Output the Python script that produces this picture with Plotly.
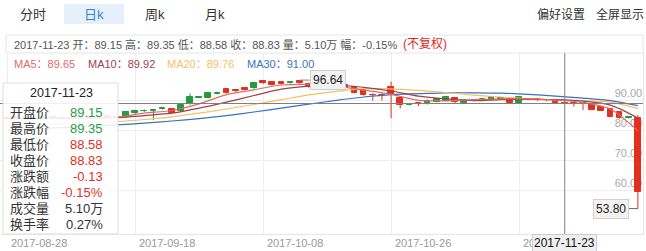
import plotly.graph_objects as go

# ---- daily candles (index 0 = 2017-08-28) ----
opens = [84.0, 83.8, 84.3, 83.6, 84.0, 84.5, 84.1, 83.7, 84.0, 84.3, 83.9, 84.2, 84.4,
         84.4, 85.6, 86.3, 86.2, 87.1, 86.9, 86.4, 88.7, 90.8, 90.8, 92.1, 93.6, 93.2,
         93.9, 93.9, 96.4, 95.9, 96.1, 95.7, 96.5, 95.2, 95.0, 94.8, 94.8, 95.0, 94.2,
         93.3, 91.8, 91.8, 94.3, 90.6, 88.5, 89.0, 89.1, 89.4, 89.8, 90.6, 88.9, 89.9,
         90.0, 90.0, 90.5, 90.2, 89.1, 90.4, 90.2, 90.1, 90.0, 89.15, 89.1, 88.9, 88.6,
         87.8, 86.9, 86.1, 83.9, 83.9]
highs = [84.4, 84.5, 84.5, 84.2, 84.8, 84.6, 84.2, 84.3, 84.5, 84.4, 84.4, 84.8, 84.7,
         86.3, 86.8, 86.8, 87.0, 87.6, 87.2, 88.5, 92.2, 91.3, 92.6, 92.6, 94.0, 93.5,
         94.1, 96.0, 96.6, 96.1, 96.3, 96.2, 96.64, 95.4, 95.2, 95.0, 95.0, 95.2, 94.4,
         93.5, 92.2, 92.2, 96.1, 90.8, 89.0, 89.2, 90.2, 90.5, 91.3, 90.7, 90.2, 90.3,
         90.4, 91.1, 90.8, 90.4, 91.2, 90.6, 90.4, 90.3, 90.2, 89.35, 89.4, 89.0, 88.7,
         88.0, 87.0, 86.2, 84.5, 85.0]
lows = [83.5, 83.6, 83.4, 83.4, 83.8, 83.9, 83.4, 83.5, 83.8, 83.7, 83.8, 84.0, 83.9,
        84.0, 85.2, 86.0, 83.3, 86.8, 85.6, 86.1, 88.4, 90.6, 90.5, 91.9, 92.2, 92.7,
        93.2, 93.7, 95.4, 94.8, 95.1, 95.5, 95.4, 94.1, 94.1, 94.2, 93.6, 93.7, 92.2,
        91.5, 89.8, 89.8, 83.9, 87.2, 88.2, 88.0, 88.5, 89.2, 89.6, 89.0, 88.7, 89.7,
        89.8, 89.9, 90.2, 89.0, 88.9, 90.0, 89.7, 89.6, 88.8, 88.58, 87.8, 86.7, 86.6,
        86.3, 84.3, 83.8, 83.8, 53.80]
closes = [83.8, 84.3, 83.6, 84.0, 84.5, 84.1, 83.7, 84.0, 84.3, 83.9, 84.2, 84.6, 84.3,
          86.1, 86.4, 86.5, 86.7, 87.3, 85.8, 88.3, 90.9, 91.0, 92.2, 92.3, 92.4, 93.0,
          93.4, 95.8, 95.6, 95.0, 95.3, 95.9, 95.6, 94.4, 94.4, 94.6, 93.9, 93.9, 92.4,
          91.7, 91.6, 91.6, 92.0, 88.3, 88.7, 88.8, 89.8, 90.2, 90.9, 89.2, 90.0, 90.1,
          90.2, 90.9, 90.6, 89.1, 90.9, 90.3, 90.0, 89.9, 88.96, 88.83, 88.9, 88.7, 86.7,
          86.4, 84.4, 83.9, 84.3, 59.4]

# ---- moving averages, sampled every third session ----
ma_idx = [0, 3, 6, 9, 12, 15, 18, 21, 24, 27, 30, 33, 36, 39, 42, 45, 48, 51, 54, 57, 60, 63, 66, 69]
ma5 = [84.0, 84.0, 84.0, 84.0, 84.3, 85.6, 86.5, 88.7, 91.8, 93.4, 95.0, 95.2, 94.6, 93.3,
       91.9, 89.9, 89.7, 90.1, 90.4, 90.4, 90.0, 89.1, 87.0, 79.7]
ma10 = [83.8, 83.9, 84.0, 84.0, 84.1, 84.8, 85.6, 87.3, 89.3, 91.5, 93.6, 94.6, 95.0, 94.2,
        93.0, 91.3, 90.4, 89.8, 90.1, 90.2, 90.1, 89.6, 88.3, 84.0]
ma20 = [81.5, 81.8, 82.1, 82.4, 82.8, 83.5, 84.4, 85.6, 87.0, 88.5, 90.1, 91.7, 92.9, 93.7,
        93.7, 93.2, 92.5, 91.6, 91.0, 90.4, 90.0, 89.75, 89.3, 87.1]
ma30 = [80.2, 80.5, 80.8, 81.2, 81.7, 82.3, 83.0, 83.8, 84.8, 86.0, 87.3, 88.6, 89.9, 91.0,
        91.8, 92.1, 92.4, 92.4, 92.3, 91.9, 91.3, 90.65, 89.8, 88.1]

x_ticks = [0, 14, 28, 42, 56]
x_tick_text = ["2017-08-28", "2017-09-18", "2017-10-08", "2017-10-26", "2017-11-16"]
y_ticks = [60, 70, 80, 90]
y_tick_text = ["60.00", "70.00", "80.00", "90.00"]

sel = 61
sel_date = "2017-11-23"
ma_now = {"MA5": "89.65", "MA10": "89.92", "MA20": "89.76", "MA30": "91.00"}
hi_idx, hi_val = 32, 96.64
lo_idx, lo_val = 69, 53.80

UP = "#1f9d3f"
DOWN = "#e2311d"
MA_COLORS = {"MA5": "#e06a6a", "MA10": "#9e3f4c", "MA20": "#f6c05f", "MA30": "#3a72bd"}
FONT = "Arial, 'Liberation Sans', 'Noto Sans CJK SC', sans-serif"

W, H = 646, 251
PL, PR, PT, PB = 0, 643, 53, 234  # plot box in pixels


def xp(px):
    return (px - PL) / (PR - PL)


def yp(py):
    return (PB - py) / (PB - PT)


fig = go.Figure()

x0_px, dx_px = 7.2, 9.14
xr = [(PL - x0_px) / dx_px, (PR - x0_px) / dx_px]
ppu = 3.0  # pixels per price unit
yr = [90 - (PB - 100) / ppu, 90 + (100 - PT) / ppu]

# wicks
for color, pick in ((UP, lambda o, c: c >= o), (DOWN, lambda o, c: c < o)):
    wx, wy = [], []
    for i, (o, h, l, c) in enumerate(zip(opens, highs, lows, closes)):
        if pick(o, c):
            wx += [i, i, None]
            wy += [l, h, None]
    fig.add_trace(go.Scatter(x=wx, y=wy, mode="lines", line=dict(color=color, width=1),
                             hoverinfo="skip", showlegend=False))

# bodies
for color, pick in ((UP, lambda o, c: c >= o), (DOWN, lambda o, c: c < o)):
    ids = [i for i, (o, c) in enumerate(zip(opens, closes)) if pick(o, c)]
    fig.add_trace(go.Bar(
        x=ids,
        base=[min(opens[i], closes[i]) for i in ids],
        y=[abs(closes[i] - opens[i]) for i in ids],
        width=0.62,
        marker=dict(color=color, line=dict(color=color, width=1)),
        hoverinfo="skip", showlegend=False))

# moving averages
for name, vals in (("MA30", ma30), ("MA20", ma20), ("MA10", ma10), ("MA5", ma5)):
    fig.add_trace(go.Scatter(x=ma_idx, y=vals, mode="lines",
                             line=dict(color=MA_COLORS[name], width=1.2, shape="spline", smoothing=0.8),
                             hoverinfo="skip", showlegend=False))

fig.update_layout(
    width=W, height=H,
    margin=dict(l=PL, r=W - PR, t=PT, b=H - PB),
    paper_bgcolor="white", plot_bgcolor="white",
    barmode="overlay", bargap=0,
    showlegend=False,
    font=dict(family=FONT, size=11, color="#333"),
    xaxis=dict(range=xr, tickvals=x_ticks, showticklabels=False, showgrid=True,
               gridcolor="#eeeeee", gridwidth=1, zeroline=False,
               showline=True, linecolor="#e6e6e6", linewidth=1,
               fixedrange=True),
    yaxis=dict(range=yr, side="right", tickvals=y_ticks, ticktext=y_tick_text,
               ticklabelposition="inside", ticklabelshift=-7, ticks="", layer="below traces",
               tickfont=dict(size=11, color="#a8a8a8"),
               showgrid=True, gridcolor="#eeeeee", zeroline=False,
               showline=True, linecolor="#e6e6e6", linewidth=1,
               fixedrange=True),
)

shapes = []
annots = []

# header frame of the quote line
shapes.append(dict(type="rect", xref="paper", yref="paper", x0=xp(6), x1=xp(643), y0=yp(53), y1=yp(35),
                   line=dict(color="#e6e6e6", width=1), fillcolor="rgba(0,0,0,0)", layer="above"))
# selected tab background
shapes.append(dict(type="rect", xref="paper", yref="paper", x0=xp(64), x1=xp(124), y0=yp(24), y1=yp(4),
                   line=dict(width=0), fillcolor="#e6f0fb", layer="below"))

# crosshair
shapes.append(dict(type="line", xref="x", yref="paper", x0=sel, x1=sel, y0=0, y1=1,
                   line=dict(color="#808080", width=1), layer="above"))
shapes.append(dict(type="line", xref="paper", yref="y", x0=0, x1=1, y0=closes[sel], y1=closes[sel],
                   line=dict(color="#808080", width=1), layer="above"))

# high / low markers
shapes.append(dict(type="line", xref="x", yref="y", x0=hi_idx, x1=hi_idx + 1.1, y0=hi_val, y1=hi_val,
                   line=dict(color="#888", width=1), layer="above"))
shapes.append(dict(type="line", xref="x", yref="y", x0=lo_idx - 1.0, x1=lo_idx, y0=lo_val, y1=lo_val,
                   line=dict(color="#666", width=1), layer="above"))
annots.append(dict(x=hi_idx + 1.1, y=hi_val, xref="x", yref="y", text=f"{hi_val:.2f}", showarrow=False,
                   xanchor="left", yanchor="middle", font=dict(size=12, color="#222"),
                   bgcolor="#f2f2f2", bordercolor="#cfcfcf", borderwidth=1, borderpad=2))
annots.append(dict(x=lo_idx - 1.0, y=lo_val, xref="x", yref="y", text=f"{lo_val:.2f}", showarrow=False,
                   xanchor="right", yanchor="middle", font=dict(size=12, color="#222"),
                   bgcolor="#f2f2f2", bordercolor="#cfcfcf", borderwidth=1, borderpad=2))

# tooltip panel
shapes.append(dict(type="rect", xref="paper", yref="paper", x0=xp(3), x1=xp(118), y0=yp(234), y1=yp(83),
                   line=dict(color="#dddddd", width=1), fillcolor="rgba(255,255,255,0.88)", layer="above"))

fig.update_layout(shapes=shapes)

# toolbar
for label, cx, col in (("分时", 33, "#333"), ("日k", 94, "#3a82d6"), ("周k", 155, "#333"), ("月k", 215, "#333")):
    annots.append(dict(x=xp(cx), y=yp(14), xref="paper", yref="paper", text=label, showarrow=False,
                       xanchor="center", yanchor="middle", font=dict(size=13, color=col)))
for label, cx in (("偏好设置", 561), ("全屏显示", 620)):
    annots.append(dict(x=xp(cx), y=yp(14), xref="paper", yref="paper", text=label, showarrow=False,
                       xanchor="center", yanchor="middle", font=dict(size=12, color="#333")))

# quote line
quote = (f"{sel_date} 开：{opens[sel]:.2f} 高：{highs[sel]:.2f} 低：{lows[sel]:.2f} "
         f"收：{closes[sel]:.2f} 量：5.10万 幅：-0.15%")
annots.append(dict(x=xp(12), y=yp(44), xref="paper", yref="paper", text=quote, showarrow=False,
                   xanchor="left", yanchor="middle", font=dict(size=11, color="#555")))
annots.append(dict(x=xp(401), y=yp(44), xref="paper", yref="paper", text="(不复权)", showarrow=False,
                   xanchor="left", yanchor="middle", font=dict(size=12, color="#e3261c")))

# MA legend
for name, lx in (("MA5", 12), ("MA10", 86), ("MA20", 165), ("MA30", 245)):
    annots.append(dict(x=xp(lx), y=yp(64), xref="paper", yref="paper", text=f"{name}：{ma_now[name]}",
                       showarrow=False, xanchor="left", yanchor="middle",
                       font=dict(size=11, color=MA_COLORS[name])))

# x axis labels
for t, txt in zip(x_ticks, x_tick_text):
    annots.append(dict(x=t, y=yp(243), xref="x", yref="paper", text=txt, showarrow=False,
                       xanchor="left", yanchor="middle", xshift=2, font=dict(size=11, color="#999")))
annots.append(dict(x=sel, y=yp(243), xref="x", yref="paper", text=sel_date, showarrow=False,
                   xanchor="center", yanchor="middle", font=dict(size=12, color="#111"),
                   bgcolor="#efefef", bordercolor="#cccccc", borderwidth=1, borderpad=1))

# tooltip content
annots.append(dict(x=xp(62), y=yp(93), xref="paper", yref="paper", text=sel_date, showarrow=False,
                   xanchor="center", yanchor="middle", font=dict(size=12.5, color="#222")))
rows = [("开盘价", f"{opens[sel]:.2f}", UP), ("最高价", f"{highs[sel]:.2f}", UP),
        ("最低价", f"{lows[sel]:.2f}", DOWN), ("收盘价", f"{closes[sel]:.2f}", DOWN),
        ("涨跌额", "-0.13", DOWN), ("涨跌幅", "-0.15%", DOWN),
        ("成交量", "5.10万", "#333"), ("换手率", "0.27%", "#333")]
for k, (lab, val, col) in enumerate(rows):
    ry = 112.7 + k * 15.95
    annots.append(dict(x=xp(8), y=yp(ry), xref="paper", yref="paper", text=lab, showarrow=False,
                       xanchor="left", yanchor="middle", font=dict(size=13, color="#333")))
    annots.append(dict(x=xp(105), y=yp(ry), xref="paper", yref="paper", text=val, showarrow=False,
                       xanchor="right", yanchor="middle", font=dict(size=13, color=col)))

fig.update_layout(annotations=annots)
fig.write_html("out.html")
